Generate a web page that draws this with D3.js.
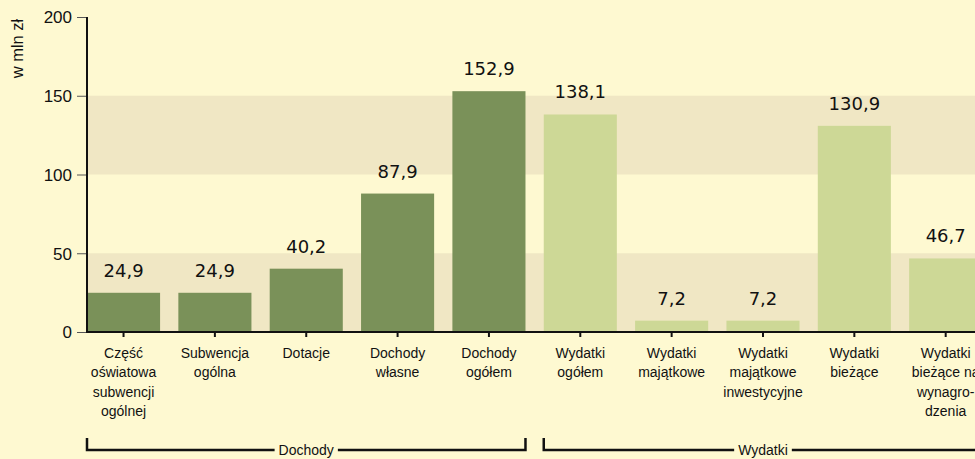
<!DOCTYPE html>
<html>
<head>
<meta charset="utf-8">
<script src="https://cdn.jsdelivr.net/npm/d3@7"></script>
<style>
  body { margin: 0; background: #fef9d1; }
  svg { display: block; }
</style>
</head>
<body>
<script>
// chart data
const categories = ["Część oświatowa subwencji ogólnej", "Subwencja ogólna", "Dotacje", "Dochody własne", "Dochody ogółem",
                    "Wydatki ogółem", "Wydatki majątkowe", "Wydatki majątkowe inwestycyjne", "Wydatki bieżące", "Wydatki bieżące na wynagrodzenia"];
const labelLines = [["Część", "oświatowa", "subwencji", "ogólnej"], ["Subwencja", "ogólna"], ["Dotacje"], ["Dochody", "własne"], ["Dochody", "ogółem"],
                    ["Wydatki", "ogółem"], ["Wydatki", "majątkowe"], ["Wydatki", "majątkowe", "inwestycyjne"], ["Wydatki", "bieżące"], ["Wydatki", "bieżące na", "wynagro-", "dzenia"]];
const values = [24.9, 24.9, 40.2, 87.9, 152.9, 138.1, 7.2, 7.2, 130.9, 46.7];
const groupOf = ["Dochody", "Dochody", "Dochody", "Dochody", "Dochody", "Wydatki", "Wydatki", "Wydatki", "Wydatki", "Wydatki"];
const groups = ["Dochody", "Wydatki"];
const yTicks = [0, 50, 100, 150, 200];
const shadedBands = [[0, 50], [100, 150]];

const width = 975, height = 459;
const plotLeft = 87, plotTop = 17, plotBottom = 332;

const svg = d3.select("body").append("svg")
    .attr("width", width)
    .attr("height", height);

const y = d3.scaleLinear().domain([0, 200]).range([plotBottom, plotTop]);
const x = d3.scaleBand().domain(categories)
    .range([plotLeft, plotLeft + 9.8 * 91.35])
    .paddingInner(0.2)
    .paddingOuter(0);

const color = d3.scaleOrdinal().domain(groups).range(["#7a9159", "#cdd896"]);

// shaded bands
svg.selectAll(".band")
    .data(shadedBands)
    .enter().append("rect")
    .attr("x", plotLeft)
    .attr("y", d => y(d[1]))
    .attr("width", width - plotLeft)
    .attr("height", d => y(d[0]) - y(d[1]))
    .attr("fill", "#f0e7c4");

// bars
svg.selectAll(".bar")
    .data(values)
    .enter().append("rect")
    .attr("x", (d, i) => x(categories[i]))
    .attr("y", d => y(d))
    .attr("width", x.bandwidth())
    .attr("height", d => y(0) - y(d))
    .attr("fill", (d, i) => color(groupOf[i]));

// value labels
svg.selectAll(".val")
    .data(values)
    .enter().append("text")
    .attr("x", (d, i) => x(categories[i]) + x.bandwidth() / 2)
    .attr("y", d => y(d) - 16)
    .attr("text-anchor", "middle")
    .style("font-family", "DejaVu Sans")
    .style("font-size", "18px")
    .attr("fill", "#111")
    .text(d => d3.format(".1f")(d).replace(".", ","));

// y axis
const yAxis = svg.append("g")
    .attr("transform", "translate(" + plotLeft + ",0)")
    .call(d3.axisLeft(y).tickValues(yTicks).tickSize(10).tickPadding(5));
yAxis.select(".domain").remove();
yAxis.selectAll("line").attr("stroke", "#555");
yAxis.selectAll("text")
    .style("font-family", "Liberation Sans")
    .style("font-size", "17px")
    .attr("fill", "#111")
    .attr("dy", "0.35em");
svg.append("line")
    .attr("x1", plotLeft).attr("x2", plotLeft)
    .attr("y1", plotTop).attr("y2", plotBottom + 1)
    .attr("stroke", "#111").attr("stroke-width", 2);

svg.append("text")
    .attr("transform", "translate(23,48.5) rotate(-90)")
    .attr("text-anchor", "middle")
    .style("font-family", "Liberation Sans")
    .style("font-size", "16.5px")
    .attr("fill", "#111")
    .text("w mln zł");

// x axis
svg.append("line")
    .attr("x1", plotLeft - 1).attr("x2", width)
    .attr("y1", plotBottom).attr("y2", plotBottom)
    .attr("stroke", "#111").attr("stroke-width", 2);
svg.selectAll(".xtick")
    .data(categories)
    .enter().append("line")
    .attr("x1", d => x(d) + x.bandwidth() / 2)
    .attr("x2", d => x(d) + x.bandwidth() / 2)
    .attr("y1", plotBottom)
    .attr("y2", plotBottom + 5)
    .attr("stroke", "#111").attr("stroke-width", 2);

const catLabels = svg.selectAll(".cat")
    .data(categories)
    .enter().append("text")
    .attr("text-anchor", "middle")
    .style("font-family", "Liberation Sans")
    .style("font-size", "14px")
    .attr("fill", "#111");
catLabels.each(function (d, i) {
    const cx = x(d) + x.bandwidth() / 2;
    d3.select(this).selectAll("tspan")
        .data(labelLines[i])
        .enter().append("tspan")
        .attr("x", cx)
        .attr("y", (t, j) => 358 + j * 19.3)
        .text(t => t);
});

// group brackets
const bracketY = 450;
groups.forEach(function (g) {
    const idx = groupOf.map((v, i) => v === g ? i : -1).filter(i => i >= 0);
    const x0 = x(categories[idx[0]]);
    const x1 = x(categories[idx[idx.length - 1]]) + x.bandwidth();
    const mid = (x0 + x1) / 2;
    const label = svg.append("text")
        .attr("x", mid).attr("y", bracketY + 5)
        .attr("text-anchor", "middle")
        .style("font-family", "Liberation Sans")
        .style("font-size", "14px")
        .attr("fill", "#111")
        .text(g);
    const half = label.node().getComputedTextLength() / 2 + 4;
    const path = "M" + x0 + "," + (bracketY - 12) + "V" + bracketY + "H" + (mid - half) +
                 "M" + (mid + half) + "," + bracketY + "H" + x1 + "V" + (bracketY - 12);
    svg.append("path")
        .attr("d", path)
        .attr("fill", "none")
        .attr("stroke", "#111")
        .attr("stroke-width", 2.5);
});
</script>
</body>
</html>
